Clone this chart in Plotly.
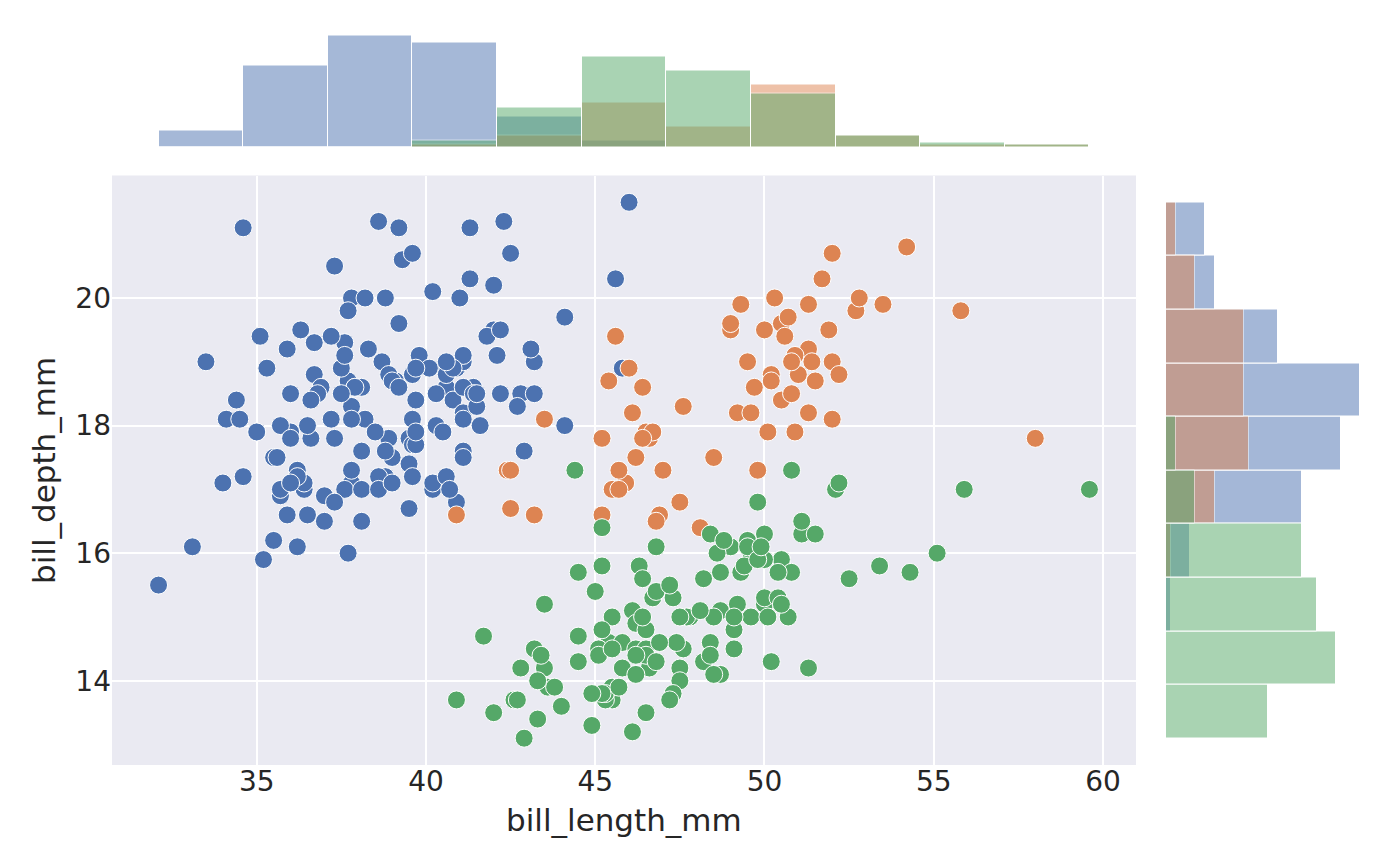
import numpy as np
import plotly.graph_objects as go

species = ["Adelie", "Chinstrap", "Gentoo"]
colors = ["#4c72b0", "#dd8452", "#55a868"]

adelie_length = [39.1, 39.5, 40.3, 36.7, 39.3, 38.9, 39.2, 34.1, 42.0, 37.8, 37.8, 41.1, 38.6, 34.6, 36.6, 38.7,
                 42.5, 34.4, 46.0, 37.8, 37.7, 35.9, 38.2, 38.8, 35.3, 40.6, 40.5, 37.9, 40.5, 39.5, 37.2, 39.5,
                 40.9, 36.4, 39.2, 38.8, 42.2, 37.6, 39.8, 36.5, 40.8, 36.0, 44.1, 37.0, 39.6, 41.1, 37.5, 36.0,
                 42.3, 39.6, 40.1, 35.0, 42.0, 34.5, 41.4, 39.0, 40.6, 36.5, 37.6, 35.7, 41.3, 37.6, 41.1, 36.4,
                 41.6, 35.5, 41.1, 35.9, 41.8, 33.5, 39.7, 39.6, 45.8, 35.5, 42.8, 40.9, 37.2, 36.2, 42.1, 34.6,
                 42.9, 36.7, 35.1, 37.3, 41.3, 36.3, 36.9, 38.3, 38.9, 35.7, 41.1, 34.0, 39.6, 36.2, 40.8, 38.1,
                 40.3, 33.1, 43.2, 35.0, 41.0, 37.7, 37.8, 37.9, 39.7, 38.6, 38.2, 38.1, 43.2, 38.1, 45.6, 39.7,
                 42.2, 39.6, 42.7, 38.6, 37.3, 35.7, 41.1, 36.2, 37.7, 40.2, 41.4, 35.2, 40.6, 38.8, 41.5, 39.0,
                 44.1, 38.5, 43.1, 36.8, 37.5, 38.1, 41.1, 35.6, 40.2, 37.0, 39.7, 40.2, 40.6, 32.1, 40.7, 37.3,
                 39.0, 39.2, 36.6, 36.0, 37.8, 36.0, 41.5]
adelie_depth = [18.7, 17.4, 18.0, 19.3, 20.6, 17.8, 19.6, 18.1, 20.2, 17.1, 17.3, 17.6, 21.2, 21.1, 17.8, 19.0,
                20.7, 18.4, 21.5, 18.3, 18.7, 19.2, 18.1, 17.2, 18.9, 18.6, 17.9, 18.6, 18.9, 16.7, 18.1, 17.8,
                18.9, 17.0, 21.1, 20.0, 18.5, 19.3, 19.1, 18.0, 18.4, 18.5, 19.7, 16.9, 18.8, 19.0, 18.9, 17.9,
                21.2, 17.7, 18.9, 17.9, 19.5, 18.1, 18.6, 17.5, 18.8, 16.6, 19.1, 16.9, 21.1, 17.0, 18.2, 17.1,
                18.0, 16.2, 19.1, 16.6, 19.4, 19.0, 18.4, 17.2, 18.9, 17.5, 18.5, 16.8, 19.4, 16.1, 19.1, 17.2,
                17.6, 18.8, 19.4, 17.8, 20.3, 19.5, 18.6, 19.2, 18.8, 18.0, 18.1, 17.1, 18.1, 17.3, 18.9, 18.6,
                18.5, 16.1, 18.5, 17.9, 20.0, 16.0, 20.0, 18.6, 18.9, 17.2, 20.0, 17.0, 19.0, 16.5, 20.3, 17.7,
                19.5, 20.7, 18.3, 17.0, 20.5, 17.0, 18.6, 17.2, 19.8, 17.0, 18.5, 15.9, 19.0, 17.6, 18.3, 17.1,
                18.0, 17.9, 19.2, 18.5, 18.5, 17.6, 17.5, 17.5, 20.1, 16.5, 17.9, 17.1, 17.2, 15.5, 17.0, 16.8,
                18.7, 18.6, 18.4, 17.8, 18.1, 17.1, 18.5]

chinstrap_length = [46.5, 50.0, 51.3, 45.4, 52.7, 45.2, 46.1, 51.3, 46.0, 51.3, 46.6, 51.7, 47.0, 52.0, 45.9, 50.5,
                    50.3, 58.0, 46.4, 49.2, 42.4, 48.5, 43.2, 50.6, 46.7, 52.0, 50.5, 49.5, 46.4, 52.8, 40.9, 54.2,
                    42.5, 51.0, 49.7, 47.5, 47.6, 52.0, 46.9, 53.5, 49.0, 46.2, 50.9, 45.5, 50.9, 50.8, 50.1, 49.0,
                    51.5, 49.8, 48.1, 51.4, 45.7, 50.7, 42.5, 52.2, 45.2, 49.3, 50.2, 45.6, 51.9, 46.8, 45.7, 55.8,
                    43.5, 49.6, 50.8, 50.2]
chinstrap_depth = [17.9, 19.5, 19.2, 18.7, 19.8, 17.8, 18.2, 18.2, 18.9, 19.9, 17.8, 20.3, 17.3, 18.1, 17.1, 19.6,
                   20.0, 17.8, 18.6, 18.2, 17.3, 17.5, 16.6, 19.4, 17.9, 19.0, 18.4, 19.0, 17.8, 20.0, 16.6, 20.8,
                   16.7, 18.8, 18.6, 16.8, 18.3, 20.7, 16.6, 19.9, 19.5, 17.5, 19.1, 17.0, 17.9, 18.5, 17.9, 19.6,
                   18.7, 17.3, 16.4, 19.0, 17.3, 19.7, 17.3, 18.8, 16.6, 19.9, 18.8, 19.4, 19.5, 16.5, 17.0, 19.8,
                   18.1, 18.2, 19.0, 18.7]

gentoo_length = [46.1, 50.0, 48.7, 50.0, 47.6, 46.5, 45.4, 46.7, 43.3, 46.8, 40.9, 49.0, 45.5, 48.4, 45.8, 49.3,
                 42.0, 49.2, 46.2, 48.7, 50.2, 45.1, 46.5, 46.3, 42.9, 46.1, 44.5, 47.8, 48.2, 50.0, 47.3, 42.8,
                 45.1, 59.6, 49.1, 48.4, 42.6, 44.4, 44.0, 48.7, 42.7, 49.6, 45.3, 49.6, 50.5, 43.6, 45.5, 50.5,
                 44.9, 45.2, 46.6, 48.5, 45.1, 50.1, 46.5, 45.0, 43.8, 45.5, 43.2, 50.4, 45.3, 46.2, 45.7, 54.3,
                 45.8, 49.8, 46.2, 49.5, 43.5, 50.7, 47.7, 46.4, 48.2, 46.5, 46.4, 48.6, 47.5, 51.1, 45.2, 45.2,
                 49.1, 52.5, 47.4, 50.0, 44.9, 50.8, 43.4, 51.3, 47.5, 52.1, 47.5, 52.2, 45.5, 49.5, 44.5, 50.8,
                 49.4, 46.9, 48.4, 51.1, 48.5, 55.9, 47.2, 49.1, 47.3, 46.8, 41.7, 53.4, 43.3, 48.1, 50.5, 49.8,
                 43.5, 51.5, 46.2, 55.1, 44.5, 48.8, 47.2, 46.8, 50.4, 45.2, 49.9]
gentoo_depth = [13.2, 16.3, 14.1, 15.2, 14.5, 13.5, 14.6, 15.3, 13.4, 15.4, 13.7, 16.1, 13.7, 14.6, 14.6, 15.7,
                13.5, 15.2, 14.5, 15.1, 14.3, 14.5, 14.5, 15.8, 13.1, 15.1, 14.3, 15.0, 14.3, 15.3, 15.3, 14.2,
                14.5, 17.0, 14.8, 16.3, 13.7, 17.3, 13.6, 15.7, 13.7, 16.0, 13.7, 15.0, 15.9, 13.9, 13.9, 15.9,
                13.3, 15.8, 14.2, 14.1, 14.4, 15.0, 14.4, 15.4, 13.9, 15.0, 14.5, 15.3, 13.8, 14.9, 13.9, 15.7,
                14.2, 16.8, 14.4, 16.2, 14.2, 15.0, 15.0, 15.6, 15.6, 14.8, 15.0, 16.0, 14.2, 16.3, 13.8, 16.4,
                14.5, 15.6, 14.6, 15.9, 13.8, 17.3, 14.4, 14.2, 14.0, 17.0, 15.0, 17.1, 14.5, 16.1, 14.7, 15.7,
                15.8, 14.6, 14.4, 16.5, 15.0, 17.0, 15.5, 15.0, 13.8, 16.1, 14.7, 15.8, 14.0, 15.1, 15.2, 15.9,
                15.2, 16.3, 14.1, 16.0, 15.7, 16.2, 13.7, 14.3, 15.7, 14.8, 16.1]

x_ticks = [35, 40, 45, 50, 55, 60]
y_ticks = [14, 16, 18, 20]
x_label = "bill_length_mm"
y_label = "bill_depth_mm"

lengths = [adelie_length, chinstrap_length, gentoo_length]
depths = [adelie_depth, chinstrap_depth, gentoo_depth]

all_x = np.concatenate([np.array(v) for v in lengths])
all_y = np.concatenate([np.array(v) for v in depths])
x_edges = np.histogram_bin_edges(all_x, bins="auto")
y_edges = np.histogram_bin_edges(all_y, bins="auto")

x_pad = (all_x.max() - all_x.min()) * 0.05
y_pad = (all_y.max() - all_y.min()) * 0.05
x_range = [all_x.min() - x_pad, all_x.max() + x_pad]
y_range = [all_y.min() - y_pad, all_y.max() + y_pad]

# page body has an 8px margin; figure coords = screen coords - 8
W, H = 1384, 850
OFF = 8
def px_x(a, b):
    return [(a - OFF) / W, (b - OFF) / W]
def px_y(top, bottom):
    return [1 - (bottom - OFF) / H, 1 - (top - OFF) / H]

main_x = px_x(112, 1136)
main_y = px_y(175.5, 765)
top_y = px_y(29.5, 147)
right_x = px_x(1166, 1370)

fig = go.Figure()
text_color = "#262626"

xc_max = 0
yc_max = 0
for name, col, lx, ly in zip(species, colors, lengths, depths):
    fig.add_trace(go.Scatter(
        x=lx, y=ly, mode="markers", name=name,
        marker=dict(color=col, size=18, line=dict(color="white", width=1)),
        xaxis="x", yaxis="y", showlegend=False))
for name, col, lx, ly in zip(species, colors, lengths, depths):
    cx, _ = np.histogram(lx, bins=x_edges)
    cy, _ = np.histogram(ly, bins=y_edges)
    xc_max = max(xc_max, cx.max())
    yc_max = max(yc_max, cy.max())
    fig.add_trace(go.Bar(
        x=(x_edges[:-1] + x_edges[1:]) / 2, y=cx, width=np.diff(x_edges),
        marker=dict(color=col, line=dict(color="white", width=1)), opacity=0.5,
        xaxis="x", yaxis="y2", showlegend=False, name=name))
    fig.add_trace(go.Bar(
        y=(y_edges[:-1] + y_edges[1:]) / 2, x=cy, width=np.diff(y_edges), orientation="h",
        marker=dict(color=col, line=dict(color="white", width=1)), opacity=0.5,
        xaxis="x2", yaxis="y", showlegend=False, name=name))

axis_font = dict(family="DejaVu Sans", size=28, color=text_color)
title_font = dict(family="DejaVu Sans", size=31, color=text_color)

fig.update_layout(
    width=W, height=H,
    margin=dict(l=0, r=0, t=0, b=0),
    paper_bgcolor="white", plot_bgcolor="rgba(0,0,0,0)",
    barmode="overlay", bargap=0,
    font=dict(family="DejaVu Sans", color=text_color),
    xaxis=dict(domain=main_x, range=x_range, tickvals=x_ticks, showgrid=True, gridcolor="white",
               gridwidth=1.5, zeroline=False, showline=False, tickfont=axis_font,
               ticks="", ticklabelstandoff=-3, anchor="y"),
    yaxis=dict(domain=main_y, range=y_range, tickvals=y_ticks, showgrid=True, gridcolor="white",
               gridwidth=1.5, zeroline=False, showline=False, tickfont=axis_font,
               ticks="", anchor="x"),
    yaxis2=dict(domain=top_y, range=[0, xc_max * 1.05], showgrid=False, zeroline=False,
                showticklabels=False, showline=False, anchor="x"),
    xaxis2=dict(domain=right_x, range=[0, yc_max * 1.05], showgrid=False, zeroline=False,
                showticklabels=False, showline=False, anchor="y"),
    shapes=[dict(type="rect", xref="x domain", yref="y domain", x0=0, x1=1, y0=0, y1=1,
                 fillcolor="#eaeaf2", line=dict(width=0), layer="below")],
    annotations=[
        dict(text=x_label, xref="paper", yref="paper", x=(624 - OFF) / W, y=1 - (820 - OFF) / H,
             xanchor="center", yanchor="middle", showarrow=False, font=title_font),
        dict(text=y_label, xref="paper", yref="paper", x=(44 - OFF) / W, y=1 - (471 - OFF) / H,
             xanchor="center", yanchor="middle", showarrow=False, font=title_font, textangle=-90),
    ],
)

fig.write_html("out.html")
